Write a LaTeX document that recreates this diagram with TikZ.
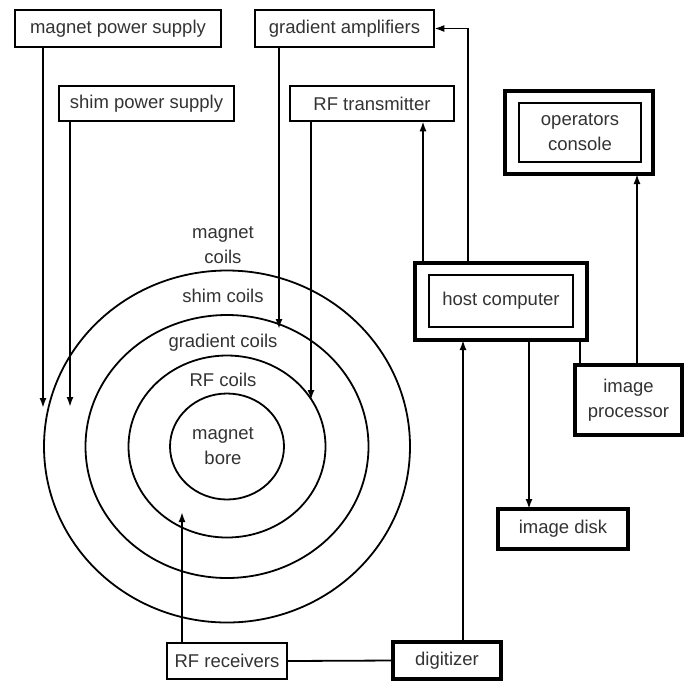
\documentclass[tikz,border=0pt]{standalone}
\usepackage{fontspec}
\setmainfont{Liberation Sans}
\usetikzlibrary{arrows.meta,calc}
\definecolor{InkLine}{HTML}{000000}
\definecolor{InkText}{HTML}{333333}

\tikzset{
  unit/.style={draw=InkLine, line width=1.8pt, outer sep=0pt, inner sep=0pt, text=InkText, align=center},
  heavyunit/.style={unit, line width=4.6pt},
  link/.style={draw=InkLine, line width=1.8pt},
  feed/.style={link, -{Latex[length=10pt,width=7pt]}},
  coil/.style={draw=InkLine, line width=1.8pt},
  coillabel/.style={text=InkText, align=center, inner sep=0pt},
}

\begin{document}
\begin{tikzpicture}[x=1pt, y=-1pt, font=\fontsize{18.5}{25}\selectfont]
  \useasboundingbox[fill=white] (0,0) rectangle (687,681);

  % Supplies, amplifiers and transmitter
  \node[unit, minimum width=206.5pt, minimum height=37.5pt] (magsupply) at (118,28.5) {magnet power supply};
  \node[unit, minimum width=175.5pt, minimum height=35.5pt] (shimsupply) at (146.5,103.5) {shim power supply};
  \node[unit, minimum width=179.5pt, minimum height=37.5pt] (gradamp) at (344.5,28.5) {gradient amplifiers};
  \node[unit, minimum width=164.5pt, minimum height=35.5pt] (rftx) at (372,103.5) {RF transmitter};

  % Console and host (double frames)
  \node[heavyunit, minimum width=148pt, minimum height=83pt] (console) at (579,132.5) {};
  \node[unit, minimum width=122.5pt, minimum height=59.5pt] (consolein) at (580,132.5) {operators\\console};
  \node[heavyunit, minimum width=172pt, minimum height=77pt] (host) at (501,301.5) {};
  \node[unit, minimum width=144.5pt, minimum height=52.5pt] (hostin) at (501,301) {host computer};

  % Image processing
  \node[heavyunit, minimum width=107pt, minimum height=70pt] (improc) at (628.5,400) {image\\processor};
  \node[heavyunit, minimum width=130pt, minimum height=40pt] (imdisk) at (563,529) {image disk};

  % Receive chain
  \node[unit, minimum width=120.5pt, minimum height=36.5pt] (rfrx) at (227,661) {RF receivers};
  \node[heavyunit, minimum width=108pt, minimum height=37pt] (digitizer) at (447,660.5) {digitizer};

  % Magnet coils
  \draw[coil] (227,446.5) ellipse (183 and 176);
  \draw[coil] (227,446.5) ellipse (141.5 and 131.5);
  \draw[coil] (227,446.5) ellipse (98.5 and 91);
  \draw[coil] (227,446.5) ellipse (57 and 53);
  \node[coillabel] (magcoils) at (223,245.5) {magnet\\coils};
  \node[coillabel] (shimcoils) at (223,296) {shim coils};
  \node[coillabel] (gradcoils) at (223,343) {gradient coils};
  \node[coillabel] (rfcoils) at (223,380) {RF coils};
  \node[coillabel] (bore) at (223,446.5) {magnet\\bore};

  % Feed ends on the coils
  \coordinate (magin) at (43,408);
  \coordinate (shimin) at (70,407);
  \coordinate (gradin) at (279,329);
  \coordinate (rfin) at (311,400);
  \coordinate (rxout) at (182,512);

  % Connectors
  \draw[feed] (magsupply.south -| magin) -- (magin);
  \draw[feed] (shimsupply.south -| shimin) -- (shimin);
  \draw[feed] (gradamp.south -| gradin) -- (gradin);
  \draw[feed] (rftx.south -| rfin) -- (rfin);
  \draw[feed] (rfrx.north -| rxout) -- (rxout);
  \draw[feed] ([xshift=-78pt]host.north) -- ([xshift=-78pt]host.north |- rftx.south);
  \draw[feed] ([xshift=-33pt]host.north) |- (gradamp.east);
  \draw[feed] ([xshift=28pt]host.south) -- ([xshift=28pt]host.south |- imdisk.north);
  \draw[link] ([xshift=79pt]host.south) -- ([xshift=79pt]host.south |- improc.north);
  \draw[feed] ([xshift=8.5pt]improc.north) -- ([xshift=8.5pt]improc.north |- console.south);
  \draw[feed] ([xshift=16pt]digitizer.north) -- ([xshift=16pt]digitizer.north |- host.south);
  \draw[link] (rfrx.east) -- (digitizer.west);
\end{tikzpicture}
\end{document}
